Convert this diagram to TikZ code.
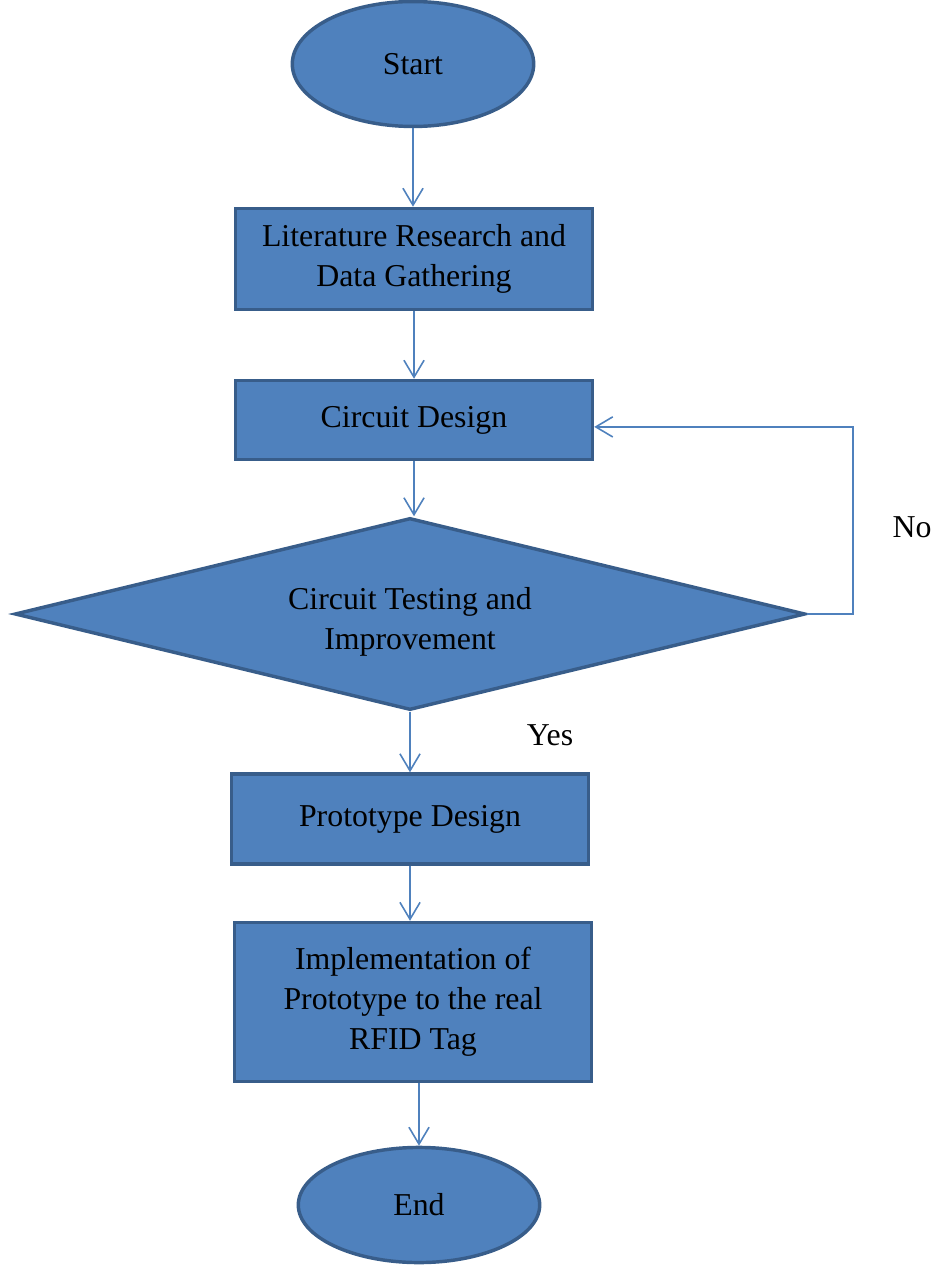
\documentclass[tikz,border=0pt]{standalone}
\usepackage{fontspec}
\setmainfont{Liberation Serif}
\usetikzlibrary{arrows.meta,shapes.geometric,calc}
\definecolor{boxBlue}{HTML}{4F81BD}
\definecolor{edgeBlue}{HTML}{385D8A}

\begin{document}
\begin{tikzpicture}[x=0.377pt, y=-0.377pt, font=\fontsize{12}{15}\selectfont,
  term/.style={ellipse, draw=edgeBlue, fill=boxBlue, line width=1.3pt, minimum width=91pt, minimum height=#1, inner sep=0pt},
  proc/.style={rectangle, draw=edgeBlue, fill=boxBlue, line width=1.3pt, minimum width=134.6pt, minimum height=#1, align=center, inner sep=0pt},
  dec/.style={diamond, aspect=4.12, draw=edgeBlue, fill=boxBlue, line width=1.3pt, minimum width=298pt, minimum height=72.4pt, align=center, inner sep=0pt},
  flow/.style={-{Straight Barb[length=6.4pt, width=7.6pt]}, draw=boxBlue, line width=0.6pt},
  note/.style={font=\fontsize{12}{15}\selectfont}
]
\useasboundingbox (0,0) rectangle (947,1265);
% nodes
\node[term=47.1pt] (start) at (413,64)  {Start};
\node[proc=38.1pt] (lit)   at (414,259) {Literature Research and\\Data Gathering};
\node[proc=29.8pt] (circ)  at (414,420) {Circuit Design};
\node[dec]         (test)  at (410,614) {};
\node              (testtxt) at (410,622) [align=center] {Circuit Testing and\\Improvement};
\node[proc=33.9pt] (proto) at (410,819) {Prototype Design};
\node[proc=59.9pt] (impl)  at (413,1002) {Implementation of\\Prototype to the real\\RFID Tag};
\node[term=43.4pt] (fin)   at (419,1205) {End};
% labels
\node[note] (no)  at (912,527) {No};
\node[note] (yes) at (550,735) {Yes};
% arrows
\draw[flow] (start) -- (start |- lit.north);
\draw[flow] (lit) -- (lit |- circ.north);
\draw[flow] (circ) -- (circ |- test.north);
\draw[flow] (test) -- (test |- proto.north);
\draw[flow] (proto) -- (proto |- impl.north);
\draw[flow] (fin |- impl.south) -- (fin);
% loop back
\coordinate (back) at (853,614);
\draw[flow] (test.east) -- (back) |- ([yshift=-2.6pt]circ.east);
\end{tikzpicture}
\end{document}
